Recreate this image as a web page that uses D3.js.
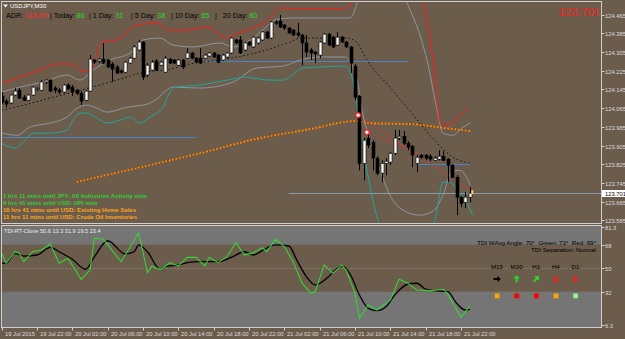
<!DOCTYPE html>
<html>
<head>
<meta charset="utf-8">
<script src="https://cdn.jsdelivr.net/npm/d3@7"></script>
<style>
  body { margin: 0; background: #6c5c4c; }
  svg { display: block; font-family: 'Liberation Sans', Arial, sans-serif; }
  text { white-space: pre; }
</style>
</head>
<body>
<div id="chart"></div>
<script>
// ---------- data (USDJPY M30) ----------
const open = [124.117,124.095,124.087,124.121,124.142,124.112,124.099,124.121,124.145,124.142,
  124.177,124.185,124.151,124.142,124.134,124.164,124.155,124.142,124.129,124.099,
  124.138,124.271,124.267,124.275,124.271,124.254,124.241,124.224,124.219,124.258,
  124.279,124.314,124.348,124.207,124.228,124.267,124.249,124.219,124.275,124.271,
  124.249,124.271,124.279,124.301,124.279,124.279,124.279,124.288,124.301,124.292,
  124.271,124.284,124.301,124.357,124.357,124.314,124.348,124.327,124.344,124.357,
  124.391,124.365,124.434,124.438,124.421,124.408,124.399,124.387,124.378,124.344,
  124.314,124.305,124.292,124.344,124.382,124.369,124.335,124.369,124.348,124.327,
  124.245,124.117,123.829,123.937,123.919,123.851,123.787,123.829,123.834,123.872,
  123.937,123.945,123.915,123.902,123.829,123.864,123.864,123.859,123.842,123.847,
  123.859,123.847,123.821,123.769,123.684,123.662,123.684];
const high = [124.134,124.104,124.125,124.151,124.151,124.121,124.125,124.159,124.155,124.185,
  124.189,124.189,124.159,124.151,124.168,124.172,124.164,124.147,124.138,124.142,
  124.292,124.275,124.279,124.344,124.275,124.262,124.249,124.232,124.267,124.284,
  124.335,124.357,124.352,124.258,124.271,124.275,124.267,124.288,124.279,124.275,
  124.275,124.275,124.322,124.305,124.284,124.322,124.297,124.305,124.305,124.297,
  124.297,124.305,124.369,124.361,124.374,124.348,124.352,124.374,124.369,124.395,
  124.395,124.438,124.442,124.464,124.425,124.412,124.404,124.429,124.382,124.378,
  124.322,124.309,124.352,124.387,124.387,124.374,124.391,124.374,124.352,124.331,
  124.254,124.121,123.937,123.954,123.928,123.859,123.842,123.851,123.877,123.971,
  123.971,123.967,123.924,123.907,123.864,123.868,123.868,123.868,123.859,123.885,
  123.881,123.851,123.825,123.778,123.688,123.705,123.727];
const low = [124.082,124.069,124.082,124.117,124.104,124.095,124.095,124.117,124.138,124.138,
  124.168,124.134,124.129,124.125,124.129,124.142,124.117,124.121,124.078,124.095,
  124.134,124.254,124.258,124.254,124.237,124.177,124.211,124.211,124.215,124.254,
  124.275,124.309,124.185,124.198,124.224,124.224,124.245,124.215,124.254,124.254,
  124.245,124.232,124.275,124.275,124.258,124.254,124.275,124.284,124.279,124.258,
  124.267,124.279,124.297,124.339,124.297,124.309,124.331,124.322,124.339,124.352,
  124.361,124.361,124.421,124.408,124.399,124.382,124.374,124.369,124.249,124.284,
  124.271,124.258,124.279,124.339,124.331,124.322,124.331,124.344,124.322,124.215,
  124.099,123.799,123.756,123.894,123.799,123.778,123.748,123.778,123.821,123.864,
  123.928,123.907,123.885,123.812,123.791,123.847,123.842,123.838,123.838,123.842,
  123.838,123.748,123.765,123.607,123.641,123.637,123.662];
const close = [124.091,124.082,124.121,124.138,124.108,124.099,124.121,124.155,124.148,124.177,
  124.185,124.138,124.142,124.134,124.164,124.147,124.134,124.129,124.095,124.138,
  124.275,124.262,124.275,124.258,124.241,124.232,124.215,124.219,124.262,124.279,
  124.327,124.348,124.198,124.249,124.262,124.228,124.262,124.279,124.258,124.258,
  124.271,124.241,124.301,124.279,124.262,124.258,124.292,124.301,124.284,124.262,
  124.292,124.301,124.365,124.344,124.301,124.344,124.335,124.369,124.365,124.391,
  124.365,124.434,124.429,124.412,124.408,124.387,124.378,124.378,124.344,124.305,
  124.301,124.297,124.348,124.382,124.335,124.327,124.369,124.348,124.327,124.258,
  124.112,123.829,123.928,123.907,123.851,123.787,123.829,123.838,123.872,123.937,
  123.945,123.915,123.898,123.864,123.855,123.855,123.851,123.847,123.851,123.859,
  123.842,123.821,123.769,123.684,123.658,123.684,123.701];

// envelope / band lines: [bar index, price]
const upperRed = [[0,124.172],[4.1,124.198],[8.7,124.228],[12.5,124.254],[15.9,124.254],[18.4,124.224],[20,124.228],
  [22.9,124.348],[26.1,124.357],[30.6,124.421],[35.2,124.429],[38.1,124.399],[42,124.399],[46.5,124.412],[51,124.365],
  [52.4,124.378],[56.9,124.408],[60.1,124.438],[63,124.494],[67.6,124.489],[76.6,124.489],[78.9,124.507],[80,124.55],
  [82.3,124.64],[88,124.72],[92,124.66],[95.4,124.528],[97.7,124.271],[99.4,124.001],[100.8,123.992],[102.6,124.014],[105.6,124.069]];
const upperGray = [[0,124.134],[4.1,124.155],[9.4,124.177],[14.8,124.207],[17.7,124.185],[20.7,124.228],[24.5,124.271],
  [29.1,124.301],[32,124.357],[35.8,124.365],[38.8,124.335],[43.3,124.327],[49.4,124.344],[52.4,124.327],[56.9,124.365],
  [59.6,124.408],[61.9,124.442],[65.3,124.451],[78.9,124.451],[80.5,124.515],[81.6,124.59],[85.7,124.70],[89.8,124.61],
  [91.8,124.515],[94.7,124.378],[96.3,124.271],[98.6,124.056],[99.9,123.958],[102.2,123.949],[104.2,123.98],[106.1,124.001]];
const midBand = [[0,124.056],[4.1,124.074],[10.9,124.108],[18.9,124.147],[26.8,124.189],[31.3,124.215],[38.1,124.232],
  [42.6,124.254],[49.4,124.271],[57.4,124.301],[65.3,124.348],[67.6,124.365],[78.2,124.365],[80.5,124.344],[82.7,124.271],
  [87.9,124.155],[90.9,124.087],[94.7,124.001],[98.6,123.915],[102.2,123.855],[106.1,123.829]];
const lowerGray = [[0,123.958],[3.5,123.949],[6.4,123.984],[10.9,124.001],[14.8,124.027],[17.1,124.065],[19.3,124.078],
  [21.6,124.065],[23.8,124.048],[28.4,124.069],[32.9,124.082],[34.7,124.099],[38.8,124.155],[44.9,124.151],[52.4,124.177],
  [57.8,124.237],[63.7,124.245],[67.6,124.271],[72.1,124.284],[77.7,124.284],[79.3,124.249],[80.5,124.185],[81.6,124.056],
  [83.4,123.928],[85.7,123.799],[87.9,123.692],[90.9,123.628],[94.7,123.607],[97.7,123.624],[99.9,123.692],[101.9,123.791],
  [103.8,123.799],[106.1,123.735]];
const lowerTeal = [[0,123.915],[3,123.894],[5.3,123.928],[7.1,123.958],[10.9,123.958],[14.8,123.971],[16.1,124.014],
  [17.7,124.044],[19.3,124.044],[21.6,124.022],[23.8,124.001],[26.8,124.014],[29.1,124.027],[31.3,124.001],[33.6,124.027],
  [36.5,124.069],[38.1,124.134],[39.2,124.155],[44.9,124.164],[51,124.185],[55.5,124.198],[56.9,124.194],[60.8,124.185],
  [63.7,124.185],[68.2,124.237],[72.1,124.241],[77.7,124.245],[79.3,124.198],[80.5,124.069],[82.7,123.799],[85.2,123.585],
  [87.9,123.48],[94.7,123.48],[98.1,123.585],[99.9,123.748],[101.5,123.748],[103.1,123.714],[105.4,123.658],[106.6,123.607]];
const orangeMA = [[16.6,123.748],[44.9,123.872],[58.5,123.937],[72.1,123.984],[75.9,124.001],[79.6,124.010],
  [83.4,124.001],[93.1,123.997],[98.6,123.984],[106.1,123.967]];

// horizontal levels
const levelPrices = [123.941, 124.265, 123.825];
const levelFrom = [0, 45.6, 94.3];
const levelTo = [44, 92, 106];
const bidPrice = 123.701;
const bidFrom = 65;

// trend lines
const trendA = [[80.7,124.035],[106.3,123.709]];
const trendB = [[82.7,123.962],[94.3,123.872]];

// TDI sub window: [bar index, value]
const tdiGreen = [[0,61.4],[1,53.8],[3,62.6],[4,61.4],[5,55.0],[7,62.6],[9,63.9],[11,68.5],[13,53.8],[15,57.6],[18,41.5],
  [20,48.6],[21,72.9],[23,72.1],[27,55.0],[28,60.1],[31,77.2],[33,46.6],[34,51.7],[36,48.6],[38,54.2],[40,51.7],[42,58.3],
  [44,58.3],[46,51.7],[47,58.3],[49,54.2],[51,58.8],[53,69.5],[55,60.1],[57,61.9],[59,65.7],[60,62.6],[62,72.1],[64,66.5],
  [66,55.0],[68,38.5],[70,31.0],[71,32.0],[73,52.5],[75,46.1],[77,52.5],[78,48.6],[80,30.8],[81,11.7],[83,21.9],[85,18.0],
  [88,25.7],[90,41.5],[92,38.5],[94,33.3],[97,32.8],[100,33.9],[101,30.3],[104,12.4],[106,21.1]];
const tdiBlack = [[0,53.8],[1,53.8],[3,61.4],[5,59.3],[8,60.1],[11,66.0],[13,62.6],[16,56.8],[19,49.2],[21,58.8],[24,71.0],
  [28,60.9],[30,62.6],[31,67.8],[33,62.6],[36,48.6],[37,51.2],[40,52.5],[42,54.2],[45,55.0],[49,55.0],[52,58.3],[55,62.6],
  [57,60.1],[59,63.4],[62,67.8],[65,67.0],[67,55.0],[69,43.5],[71,37.2],[74,43.5],[76,49.9],[77,51.7],[79,44.8],[81,29.5],
  [83,19.3],[85,17.5],[87,20.5],[89,29.5],[92,37.9],[94,38.5],[96,33.9],[98,32.8],[101,32.0],[103,23.2],[105,18.0],[106,18.5]];
const tdiTicks = [81.3, 68, 50, 32, 6.3];
const tdiLevels = [68, 50, 32];

// axes
const priceTicks = [124.465,124.385,124.305,124.225,124.145,124.065,123.985,123.905,123.825,123.745,123.665,123.585];
const timeTickBars = [0, 8, 16, 24, 32, 40, 48, 56, 64, 72, 80, 88, 96, 104];
const timeLabels = ['19 Jul 2015','19 Jul 22:00','20 Jul 02:00','20 Jul 06:00','20 Jul 10:00','20 Jul 14:00',
  '20 Jul 18:00','20 Jul 22:00','21 Jul 02:00','21 Jul 06:00','21 Jul 10:00','21 Jul 14:00','21 Jul 18:00','21 Jul 22:00'];

// text panels
const adrLabels = ['Today', '1 Day', '5 Day', '10 Day', '20 Day'];
const adrValues = [86, 31, 38, 65, 80];
const adrPercent = '118.5%';
const newsText = ['1 hrs 11 mins until JPY: All Industries Activity m/m', '9 hrs 41 mins until USD: HPI m/m',
  '10 hrs 41 mins until USD: Existing Home Sales', '11 hrs 11 mins until USD: Crude Oil Inventories'];
const newsImpact = ['low', 'low', 'medium', 'medium'];
const tfNames = ['M15', 'M30', 'H1', 'H4', 'D1'];
const tfArrow = ['flat', 'up', 'upright', 'down', 'down'];
const tfState = ['neutral', 'bear', 'bear', 'neutral', 'bull'];

// ---------- layout ----------
const W = 625, H = 339;
const BG = '#6c5c4c';
const left = 1.5, right = 601.5;
const mainTop = 1.5, mainBottom = 223.5;
const subTop = 225.5, subBottom = 327.5;

const x = d3.scaleLinear().domain([0, 104]).range([1.7, 461]);
const y = d3.scaleLinear().domain([123.585, 124.465]).range([220.3, 14.7]);
const ySub = d3.scaleLinear().domain([6.3, 81.3]).range([325.3, 227.3]);

const svg = d3.select('#chart').append('svg').attr('width', W).attr('height', H);
svg.append('rect').attr('width', W).attr('height', H).attr('fill', BG);

const defs = svg.append('defs');
defs.append('clipPath').attr('id', 'clipMain').append('rect')
  .attr('x', left).attr('y', mainTop).attr('width', right - left).attr('height', mainBottom - mainTop);
defs.append('clipPath').attr('id', 'clipSub').append('rect')
  .attr('x', left).attr('y', subTop).attr('width', right - left).attr('height', subBottom - subTop);

// ---------- main window ----------
const main = svg.append('g').attr('clip-path', 'url(#clipMain)');
const pline = d3.line().x(d => x(d[0])).y(d => y(d[1]));
const smooth = d3.line().x(d => x(d[0])).y(d => y(d[1])).curve(d3.curveMonotoneX);

// horizontal levels
levelPrices.forEach((p, i) => {
  main.append('line')
    .attr('x1', x(levelFrom[i])).attr('x2', x(levelTo[i]))
    .attr('y1', Math.round(y(p)) + 0.5).attr('y2', Math.round(y(p)) + 0.5)
    .attr('stroke', '#4a82c8').attr('stroke-width', 1);
});
main.append('line')
  .attr('x1', x(bidFrom)).attr('x2', right)
  .attr('y1', Math.round(y(bidPrice)) + 0.5).attr('y2', Math.round(y(bidPrice)) + 0.5)
  .attr('stroke', '#8799ab').attr('stroke-width', 1);

// long MA (orange with dark red dashes)
main.append('path').attr('d', smooth(orangeMA)).attr('fill', 'none')
  .attr('stroke', '#e09a1a').attr('stroke-width', 1.7);
main.append('path').attr('d', smooth(orangeMA)).attr('fill', 'none')
  .attr('stroke', '#9a2a12').attr('stroke-width', 1.7).attr('stroke-dasharray', '1.5,2');

// bands
main.append('path').attr('d', smooth(upperGray)).attr('fill', 'none').attr('stroke', '#8e959b').attr('stroke-width', 1);
main.append('path').attr('d', smooth(lowerGray)).attr('fill', 'none').attr('stroke', '#8e959b').attr('stroke-width', 1);
main.append('path').attr('d', smooth(lowerTeal)).attr('fill', 'none').attr('stroke', '#21a89c').attr('stroke-width', 1);
main.append('path').attr('d', smooth(upperRed)).attr('fill', 'none').attr('stroke', '#ff1c1c').attr('stroke-width', 1);
main.append('path').attr('d', smooth(midBand)).attr('fill', 'none').attr('stroke', '#111')
  .attr('stroke-width', 1).attr('stroke-dasharray', '1.5,2.5');

// trend lines
[trendA, trendB].forEach(t => {
  main.append('path').attr('d', pline(t)).attr('fill', 'none')
    .attr('stroke', '#ff2a2a').attr('stroke-width', 1).attr('stroke-dasharray', '2,2');
});

// candles
const bars = open.map((o, i) => ({ i, o, h: high[i], l: low[i], c: close[i] }));
const candle = main.selectAll('g.candle').data(bars).enter().append('g').attr('class', 'candle');
candle.append('line')
  .attr('x1', d => Math.round(x(d.i)) + 0.5).attr('x2', d => Math.round(x(d.i)) + 0.5)
  .attr('y1', d => y(d.h)).attr('y2', d => y(d.l))
  .attr('stroke', '#000').attr('stroke-width', 1);
candle.append('rect')
  .attr('x', d => Math.round(x(d.i)) - 1)
  .attr('y', d => y(Math.max(d.o, d.c)))
  .attr('width', 3)
  .attr('height', d => Math.max(1, Math.abs(y(d.o) - y(d.c))))
  .attr('fill', d => d.c >= d.o ? '#fff' : '#000')
  .attr('stroke', '#000').attr('stroke-width', 0.6);

// markers at trend starts and last bar
[trendA[0], trendB[0]].forEach(p => {
  main.append('circle').attr('cx', x(p[0])).attr('cy', y(p[1])).attr('r', 2.3)
    .attr('fill', '#fff').attr('stroke', '#ff2020').attr('stroke-width', 1.2);
});
main.append('rect').attr('x', x(106) + 1.5).attr('y', y(close[106]) - 3).attr('width', 2).attr('height', 4)
  .attr('fill', '#ffd24a');

// frame
svg.append('rect').attr('x', left).attr('y', mainTop).attr('width', right - left).attr('height', mainBottom - mainTop)
  .attr('fill', 'none').attr('stroke', '#cfcfcf').attr('stroke-width', 1);

// price axis
const axisText = '#dcdcdc';
priceTicks.forEach(p => {
  const yy = Math.round(y(p)) + 0.5;
  svg.append('line').attr('x1', right).attr('x2', right + 3).attr('y1', yy).attr('y2', yy).attr('stroke', '#cfcfcf');
  svg.append('text').attr('x', 605).attr('y', yy + 2).attr('font-size', 5.8).attr('fill', axisText).text(p.toFixed(3));
});
const bidY = Math.round(y(bidPrice)) + 0.5;
svg.append('rect').attr('x', 602).attr('y', bidY - 3.5).attr('width', 23).attr('height', 7).attr('fill', '#fff');
svg.append('text').attr('x', 605).attr('y', bidY + 2).attr('font-size', 5.8).attr('fill', '#000').text(bidPrice.toFixed(3));

// title and ADR line
svg.append('path').attr('d', 'M3,4.5 L8,4.5 L5.5,7.5 Z').attr('fill', '#fff');
svg.append('text').attr('x', 10).attr('y', 8).attr('font-size', 6).attr('fill', '#fff').text('USDJPY,M30');

// ADR pieces laid out left to right; each piece starts at its target x or just after the previous one
const adrFont = 7.2;
const adrPieces = [{ t: 'ADR:', c: '#000', at: 6 }, { t: adrPercent, c: '#ff2a2a', at: 19.5 }];
const adrSepX = [48, 89, 131, 171, 215];
adrLabels.forEach((lab, i) => {
  adrPieces.push({ t: (i === 4 ? '|   ' : '| ') + lab + ':', c: '#000', at: adrSepX[i] });
  adrPieces.push({ t: String(adrValues[i]), c: '#22dd22', at: 0 });
});
let adrEnd = 0;
adrPieces.forEach(p => {
  const tx = Math.max(p.at, adrEnd + 1.5);
  const node = svg.append('text').attr('x', tx).attr('y', 17.5).attr('font-size', adrFont).attr('fill', p.c).text(p.t);
  adrEnd = tx + node.node().getComputedTextLength();
});

svg.append('text').attr('x', 600).attr('y', 15.5).attr('text-anchor', 'end').attr('font-size', 11.5)
  .attr('fill', '#ff1a1a').text(bidPrice.toFixed(3));

// news lines
const impactColor = { low: '#33cc33', medium: '#ffa31a' };
newsText.forEach((t, i) => {
  svg.append('text').attr('x', 3).attr('y', 198.3 + i * 6.8).attr('font-size', 6)
    .attr('font-weight', 'bold').attr('fill', impactColor[newsImpact[i]]).text(t);
});

// ---------- TDI sub window ----------
const sub = svg.append('g').attr('clip-path', 'url(#clipSub)');
sub.append('rect').attr('x', left).attr('y', subTop).attr('width', right - left)
  .attr('height', ySub(tdiLevels[0]) - subTop).attr('fill', '#757575');
sub.append('rect').attr('x', left).attr('y', ySub(tdiLevels[2])).attr('width', right - left)
  .attr('height', subBottom - ySub(tdiLevels[2])).attr('fill', '#757575');
sub.append('line').attr('x1', left).attr('x2', right)
  .attr('y1', Math.round(ySub(tdiLevels[1])) + 0.5).attr('y2', Math.round(ySub(tdiLevels[1])) + 0.5)
  .attr('stroke', '#8f8070').attr('stroke-dasharray', '2,2');

const sline = d3.line().x(d => x(d[0])).y(d => ySub(d[1]));
sub.append('path').attr('d', sline.curve(d3.curveMonotoneX)(tdiBlack)).attr('fill', 'none')
  .attr('stroke', '#000').attr('stroke-width', 1.3);
sub.append('path').attr('d', sline.curve(d3.curveLinear)(tdiGreen)).attr('fill', 'none')
  .attr('stroke', '#35d535').attr('stroke-width', 1.1);

svg.append('rect').attr('x', left).attr('y', subTop).attr('width', right - left).attr('height', subBottom - subTop)
  .attr('fill', 'none').attr('stroke', '#cfcfcf').attr('stroke-width', 1);

svg.append('text').attr('x', 4).attr('y', 232.5).attr('font-size', 5.6).attr('fill', '#ececec')
  .text('TDI-RT-Clone 50.6 13.3 31.9 19.5 23.4');
svg.append('text').attr('x', 596).attr('y', 244.7).attr('text-anchor', 'end').attr('font-size', 6.2).attr('fill', '#000')
  .text('TDI WAvg Angle: 70°  Green: 73°  Red: 69°');
svg.append('text').attr('x', 596).attr('y', 252.2).attr('text-anchor', 'end').attr('font-size', 6.2).attr('fill', '#000')
  .text('TDI Separation: Normal');

// timeframe arrows
const arrowColor = { flat: '#000', up: '#22dd22', upright: '#22dd22', down: '#ff1a1a' };
const arrowAngle = { flat: 0, up: -90, upright: -45, down: 90 };
const stateColor = { neutral: '#ffa500', bear: '#ff0000', bull: '#99ee99' };
const tfX = d3.scaleLinear().domain([0, 4]).range([497, 575.5]);
tfNames.forEach((n, i) => {
  const cx = tfX(i);
  svg.append('text').attr('x', cx).attr('y', 268.8).attr('text-anchor', 'middle').attr('font-size', 6.2)
    .attr('fill', '#000').text(n);
  svg.append('path').attr('d', 'M-3.5,-1 L0.5,-1 L0.5,-3.3 L3.8,0 L0.5,3.3 L0.5,1 L-3.5,1 Z')
    .attr('transform', `translate(${cx},279) rotate(${arrowAngle[tfArrow[i]]})`)
    .attr('fill', arrowColor[tfArrow[i]]);
  svg.append('rect').attr('x', cx - 2.3).attr('y', 293.5).attr('width', 4.8).attr('height', 4.8)
    .attr('fill', stateColor[tfState[i]]);
});

// sub axis
tdiTicks.forEach(v => {
  const yy = Math.round(ySub(v)) + 0.5;
  svg.append('line').attr('x1', right).attr('x2', right + 3).attr('y1', yy).attr('y2', yy).attr('stroke', '#cfcfcf');
  svg.append('text').attr('x', 605).attr('y', yy + 2).attr('font-size', 5.8).attr('fill', axisText).text(v);
});

// time axis
timeTickBars.forEach((b, i) => {
  const xx = Math.round(x(b)) + 0.5;
  svg.append('line').attr('x1', xx).attr('x2', xx).attr('y1', subBottom).attr('y2', subBottom + 3).attr('stroke', '#cfcfcf');
  svg.append('text').attr('x', xx + 2.5).attr('y', 335.5).attr('font-size', 5.8).attr('fill', axisText).text(timeLabels[i]);
});
</script>
</body>
</html>
